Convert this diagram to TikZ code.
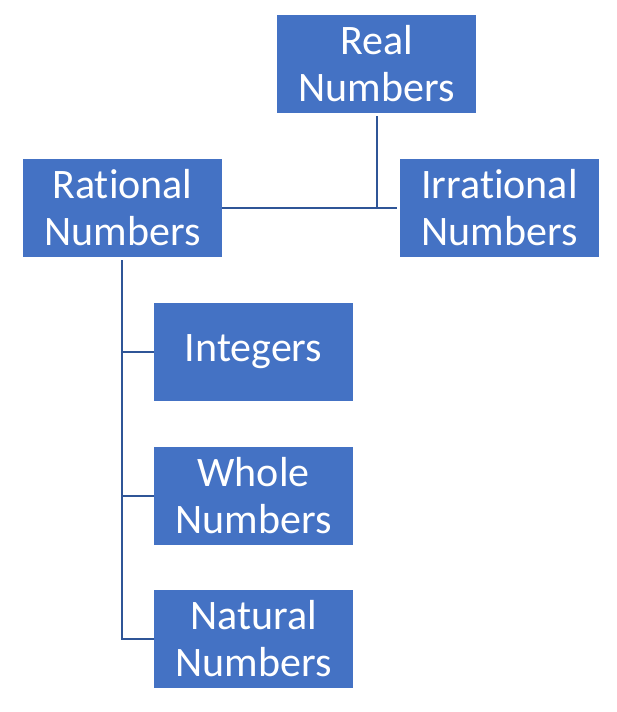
\documentclass[tikz,border=0pt]{standalone}
\usepackage{fontspec}
\setmainfont{Carlito}[Ligatures={NoCommon}]
\definecolor{boxblue}{HTML}{4472C4}
\definecolor{lineblue}{HTML}{2F5597}
\begin{document}
\begin{tikzpicture}[x=1pt,y=-1pt,
  numbox/.style={fill=boxblue,draw=none,minimum width=199pt,minimum height=98pt,inner sep=0pt,
    text=white,align=center,font=\fontsize{42}{47}\selectfont},
  conn/.style={draw=lineblue,line width=2.2pt}]
\useasboundingbox (0,0) rectangle (617,712);
\node[numbox] (real) at (376.5,64) {Real\\Numbers};
\node[numbox] (rat) at (122.5,208) {Rational\\Numbers};
\node[numbox] (irr) at (499.5,208) {Irrational\\Numbers};
\node[numbox] (int) at (253.5,352) {Integers};
\node[numbox] (whole) at (253.5,496) {Whole\\Numbers};
\node[numbox] (nat) at (253.5,639) {Natural\\Numbers};
\coordinate (j) at (377,208);
\coordinate (t) at (122,639);
\draw[conn] ([yshift=-3pt]real.south -| j) -- (j);
\draw[conn] (rat.east) -- ([xshift=-3pt]irr.west);
\draw[conn] ([yshift=-3pt]rat.south -| t) -- (t) -- (nat.west);
\draw[conn] (int.west -| t) -- (int.west);
\draw[conn] (whole.west -| t) -- (whole.west);
\end{tikzpicture}
\end{document}
